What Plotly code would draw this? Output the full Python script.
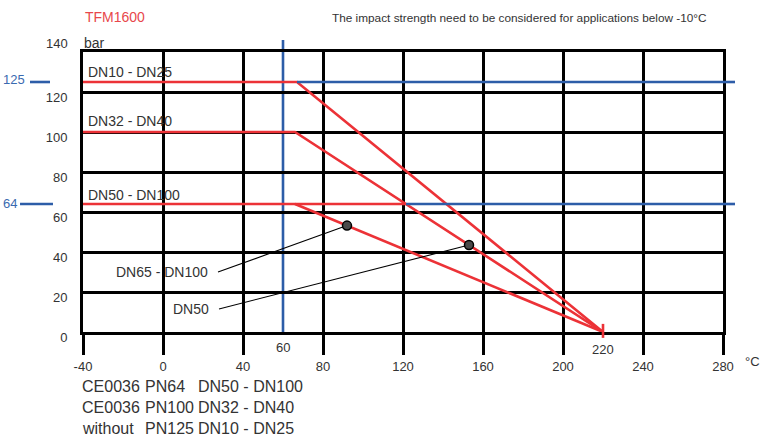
import plotly.graph_objects as go

# ---- data ----
x_ticks = [-40, 0, 40, 80, 120, 160, 200, 240, 280]
y_ticks = [0, 20, 40, 60, 80, 100, 120, 140]

pn125_x = [-40, 67, 220]
pn125_y = [125, 125, 0]
pn100_x = [-40, 66, 220]
pn100_y = [100, 100, 0]
pn64_flat_x = [-40, 121.5]
pn64_flat_y = [64, 64]
pn64_x = [66, 220]
pn64_y = [64, 0]

blue125_x = [67, 280]
blue125_y = [125, 125]
blue64_x = [121.5, 280]
blue64_y = [64, 64]

limit_temp = 60
max_temp = 220

points_x = [92, 153]
points_y = [53.2, 43.5]
callout_label_x = [27.5, 28]
callout_label_y = [30, 11.5]
callout_names = ["DN65 - DN100", "DN50"]

class_labels = ["DN10 - DN25", "DN32 - DN40", "DN50 - DN100"]
class_label_y = [130, 105.5, 68.5]

bottom_col1 = ["CE0036", "CE0036", "without"]
bottom_col2 = ["PN64", "PN100", "PN125"]
bottom_col3 = ["DN50 - DN100", "DN32 - DN40", "DN10 - DN25"]

RED = "#EC3237"
BLUE = "#2D5DA8"
TXT = "#333333"
FONT = "Liberation Sans, Arial, sans-serif"

fig = go.Figure()

# red pressure curves
for xs, ys in [(pn125_x, pn125_y), (pn100_x, pn100_y),
               (pn64_flat_x, pn64_flat_y), (pn64_x, pn64_y)]:
    fig.add_trace(go.Scatter(x=xs, y=ys, mode="lines",
                             line=dict(color=RED, width=2.6), hoverinfo="skip"))

# blue horizontals (inside plot)
for xs, ys in [(blue125_x, blue125_y), (blue64_x, blue64_y)]:
    fig.add_trace(go.Scatter(x=xs, y=ys, mode="lines",
                             line=dict(color=BLUE, width=2.6), hoverinfo="skip"))

# callout lines
for i in range(2):
    fig.add_trace(go.Scatter(x=[callout_label_x[i], points_x[i]],
                             y=[callout_label_y[i], points_y[i]], mode="lines",
                             line=dict(color="black", width=1.1), hoverinfo="skip"))
fig.add_trace(go.Scatter(x=points_x, y=points_y, mode="markers",
                         marker=dict(size=9, color="#4a4a4a",
                                     line=dict(color="black", width=1.5)),
                         hoverinfo="skip", cliponaxis=False))

shapes = []
# blue vertical at 60
shapes.append(dict(type="line", xref="x", yref="paper", x0=limit_temp, x1=limit_temp,
                   y0=-0.011, y1=1.043, line=dict(color=BLUE, width=2.6), layer="between"))
# red tick at 220
shapes.append(dict(type="line", xref="x", yref="paper", x0=max_temp, x1=max_temp,
                   y0=-0.021, y1=0.029, line=dict(color=RED, width=2.6), layer="above"))
# blue outside dashes
shapes.append(dict(type="line", xref="paper", yref="y", x0=-0.0828, x1=-0.0516,
                   y0=125, y1=125, line=dict(color=BLUE, width=2.6)))
shapes.append(dict(type="line", xref="paper", yref="y", x0=-0.0984, x1=-0.0469,
                   y0=64, y1=64, line=dict(color=BLUE, width=2.6)))
shapes.append(dict(type="line", xref="paper", yref="y", x0=1.0, x1=1.01875,
                   y0=125, y1=125, line=dict(color=BLUE, width=2.6)))
shapes.append(dict(type="line", xref="paper", yref="y", x0=1.0, x1=1.01875,
                   y0=64, y1=64, line=dict(color=BLUE, width=2.6)))

ann = []
def A(**kw):
    base = dict(showarrow=False, font=dict(family=FONT, size=14, color=TXT))
    f = kw.pop("font", {})
    base["font"].update(f)
    base.update(kw)
    ann.append(base)

A(text="125", xref="paper", yref="y", x=-0.0875, y=125, xanchor="right", yanchor="middle",
  yshift=3, font=dict(color="#3A6AB0", size=13))
A(text="64", xref="paper", yref="y", x=-0.1, y=64, xanchor="right", yanchor="middle",
  yshift=1, font=dict(color="#3A6AB0", size=13))
for t, yv in zip(class_labels, class_label_y):
    A(text=t, xref="x", yref="y", x=-40, y=yv, xanchor="left", yanchor="middle", xshift=3)
for i in range(2):
    A(text=callout_names[i], xref="x", yref="y", x=callout_label_x[i], y=callout_label_y[i],
      xanchor="right", yanchor="middle", xshift=-8)
A(text="60", xref="x", yref="paper", x=limit_temp, y=-0.057, xanchor="center",
  yanchor="middle", font=dict(size=13))
A(text="220", xref="x", yref="paper", x=max_temp, y=-0.064, xanchor="center",
  yanchor="middle", font=dict(size=13))
A(text="°C", xref="paper", yref="paper", x=1.032, y=-0.107, xanchor="left",
  yanchor="middle", font=dict(size=13))
A(text="bar", xref="paper", yref="paper", x=0, y=1.032, xanchor="left", yanchor="middle",
  xshift=-1, font=dict(size=14))
A(text="140", xref="paper", yref="paper", x=-0.02, y=1.032, xanchor="right",
  yanchor="middle", font=dict(size=13))
A(text="TFM1600", xref="paper", yref="paper", x=0, y=1.125, xanchor="left",
  yanchor="middle", font=dict(color="#E8474B", size=14))
A(text="The impact strength need to be considered for applications below -10°C",
  xref="paper", yref="paper", x=0.978, y=1.121, xanchor="right", yanchor="middle",
  font=dict(size=11.8))
rows_y = [-0.196, -0.271, -0.343]
for c1, c2, c3, yv in zip(bottom_col1, bottom_col2, bottom_col3, rows_y):
    A(text=c1, xref="paper", yref="paper", x=-0.0047, y=yv, xanchor="left",
      yanchor="middle", font=dict(size=16))
    A(text=c2, xref="paper", yref="paper", x=(143 - 83) / 640, y=yv, xanchor="left",
      yanchor="middle", font=dict(size=16))
    A(text=c3, xref="paper", yref="paper", x=(196 - 83) / 640, y=yv, xanchor="left",
      yanchor="middle", font=dict(size=16))

y_labels = [str(v) if v != 140 else "" for v in y_ticks]

fig.update_layout(
    width=761, height=436,
    margin=dict(l=83, r=38, t=52, b=104),
    paper_bgcolor="white", plot_bgcolor="white",
    showlegend=False, hovermode=False,
    shapes=shapes, annotations=ann,
    font=dict(family=FONT, color=TXT, size=13),
    xaxis=dict(range=[-40, 280], tickvals=x_ticks, ticktext=[str(v) for v in x_ticks],
               showgrid=True, gridcolor="black", gridwidth=3,
               showline=True, linecolor="black", linewidth=3, mirror=True,
               ticks="outside", ticklen=20, tickwidth=3, tickcolor="black",
               zeroline=False, tickfont=dict(size=13, color=TXT, family=FONT),
               fixedrange=True),
    yaxis=dict(range=[0, 140], tickvals=y_ticks, ticktext=y_labels,
               showgrid=True, gridcolor="black", gridwidth=3,
               showline=True, linecolor="black", linewidth=3, mirror=True,
               ticks="", ticklabelstandoff=10, ticklabelshift=5,
               zeroline=False, tickfont=dict(size=13, color=TXT, family=FONT),
               fixedrange=True),
)

fig.write_html("out.html", config={"displayModeBar": False},
               post_script="document.body.style.margin='0';")
